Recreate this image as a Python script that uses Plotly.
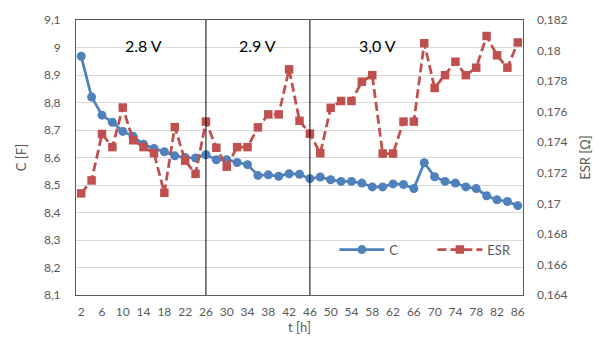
import plotly.graph_objects as go

# Time axis (hours) and measured series
t_hours = list(range(2, 88, 2))
capacitance = [
    8.968, 8.820, 8.754, 8.728, 8.695, 8.677, 8.648, 8.633, 8.621, 8.606,
    8.600, 8.598, 8.610, 8.592, 8.592, 8.582, 8.574, 8.535, 8.537, 8.532,
    8.541, 8.539, 8.523, 8.529, 8.519, 8.513, 8.513, 8.507, 8.493, 8.493,
    8.504, 8.502, 8.487, 8.581, 8.530, 8.513, 8.507, 8.493, 8.487, 8.461,
    8.446, 8.440, 8.425,
]
esr = [
    0.17065, 0.17150, 0.17454, 0.17368, 0.17627, 0.17413, 0.17368, 0.17328, 0.17069, 0.17499,
    0.17279, 0.17193, 0.17535, 0.17364, 0.17240, 0.17368, 0.17368, 0.17497, 0.17582, 0.17582,
    0.17877, 0.17540, 0.17456, 0.17328, 0.17625, 0.17670, 0.17670, 0.17796, 0.17839, 0.17326,
    0.17326, 0.17535, 0.17535, 0.18048, 0.17755, 0.17839, 0.17927, 0.17839, 0.17888, 0.18095,
    0.17969, 0.17888, 0.18053,
]

# Voltage stages: boundaries and labels
stage_bounds = [26, 46]
stage_labels = ["2.8 V", "2.9 V", "3,0 V"]
stage_label_x = [14, 36, 59]

# Axis ticks
x_ticks = list(range(2, 88, 4))
c_ticks = [8.1, 8.2, 8.3, 8.4, 8.5, 8.6, 8.7, 8.8, 8.9, 9.0, 9.1]
c_tick_text = ["8,1", "8,2", "8,3", "8,4", "8,5", "8,6", "8,7", "8,8", "8,9", "9", "9,1"]
esr_ticks = [0.164, 0.166, 0.168, 0.170, 0.172, 0.174, 0.176, 0.178, 0.180, 0.182]
esr_tick_text = ["0,164", "0,166", "0,168", "0,17", "0,172", "0,174", "0,176", "0,178", "0,18", "0,182"]

BLUE = "#4F81BD"
RED = "#C0504D"
TXT = "#595959"
FONT = "Lato"

fig = go.Figure()
fig.add_trace(go.Scatter(
    x=t_hours, y=capacitance, name="C", mode="lines+markers",
    line=dict(color=BLUE, width=2.75),
    marker=dict(symbol="circle", size=9, color=BLUE),
))
fig.add_trace(go.Scatter(
    x=t_hours, y=esr, name="ESR", mode="lines+markers", yaxis="y2",
    line=dict(color=RED, width=2.75, dash="9px,4px"),
    marker=dict(symbol="square", size=8.5, color=RED),
))

for xb in stage_bounds:
    fig.add_shape(type="line", xref="x", yref="paper", x0=xb, x1=xb, y0=0, y1=1,
                  line=dict(color="#000000", width=1))

for lbl, xl in zip(stage_labels, stage_label_x):
    fig.add_annotation(x=xl, y=0.95, xref="x", yref="paper", text=lbl,
                       showarrow=False, font=dict(family=FONT, size=16, color="#000000"))

fig.update_layout(
    width=603, height=344,
    margin=dict(l=76, r=72, t=15, b=49),
    paper_bgcolor="white", plot_bgcolor="white",
    font=dict(family=FONT, size=12, color=TXT),
    showlegend=True,
    legend=dict(orientation="h", x=0.578, y=0.165, xanchor="left", yanchor="middle",
                bgcolor="rgba(0,0,0,0)", font=dict(family=FONT, size=13, color=TXT),
                entrywidth=38, itemwidth=45),
    xaxis=dict(
        range=[1, 87], tickvals=x_ticks, showgrid=False, zeroline=False,
        showline=True, linecolor="#595959", linewidth=1, mirror=True,
        ticks="", ticklabelstandoff=6,
        title=dict(text="t [h]", font=dict(family=FONT, size=13, color=TXT), standoff=3),
    ),
    yaxis=dict(
        range=[8.1, 9.1], tickvals=c_ticks, ticktext=c_tick_text,
        showgrid=True, gridcolor="#D9D9D9", gridwidth=1, zeroline=False,
        showline=True, linecolor="#595959", linewidth=1, mirror=True,
        ticks="", ticklabelstandoff=12,
        title=dict(text="C [F]", font=dict(family=FONT, size=13, color=TXT), standoff=14),
    ),
    yaxis2=dict(
        range=[0.164, 0.182], tickvals=esr_ticks, ticktext=esr_tick_text,
        overlaying="y", side="right", showgrid=False, zeroline=False,
        showline=False, ticks="", ticklabelstandoff=13,
        title=dict(text="ESR [Ω]", font=dict(family=FONT, size=13, color=TXT), standoff=14),
    ),
)

fig.write_html("out.html")
